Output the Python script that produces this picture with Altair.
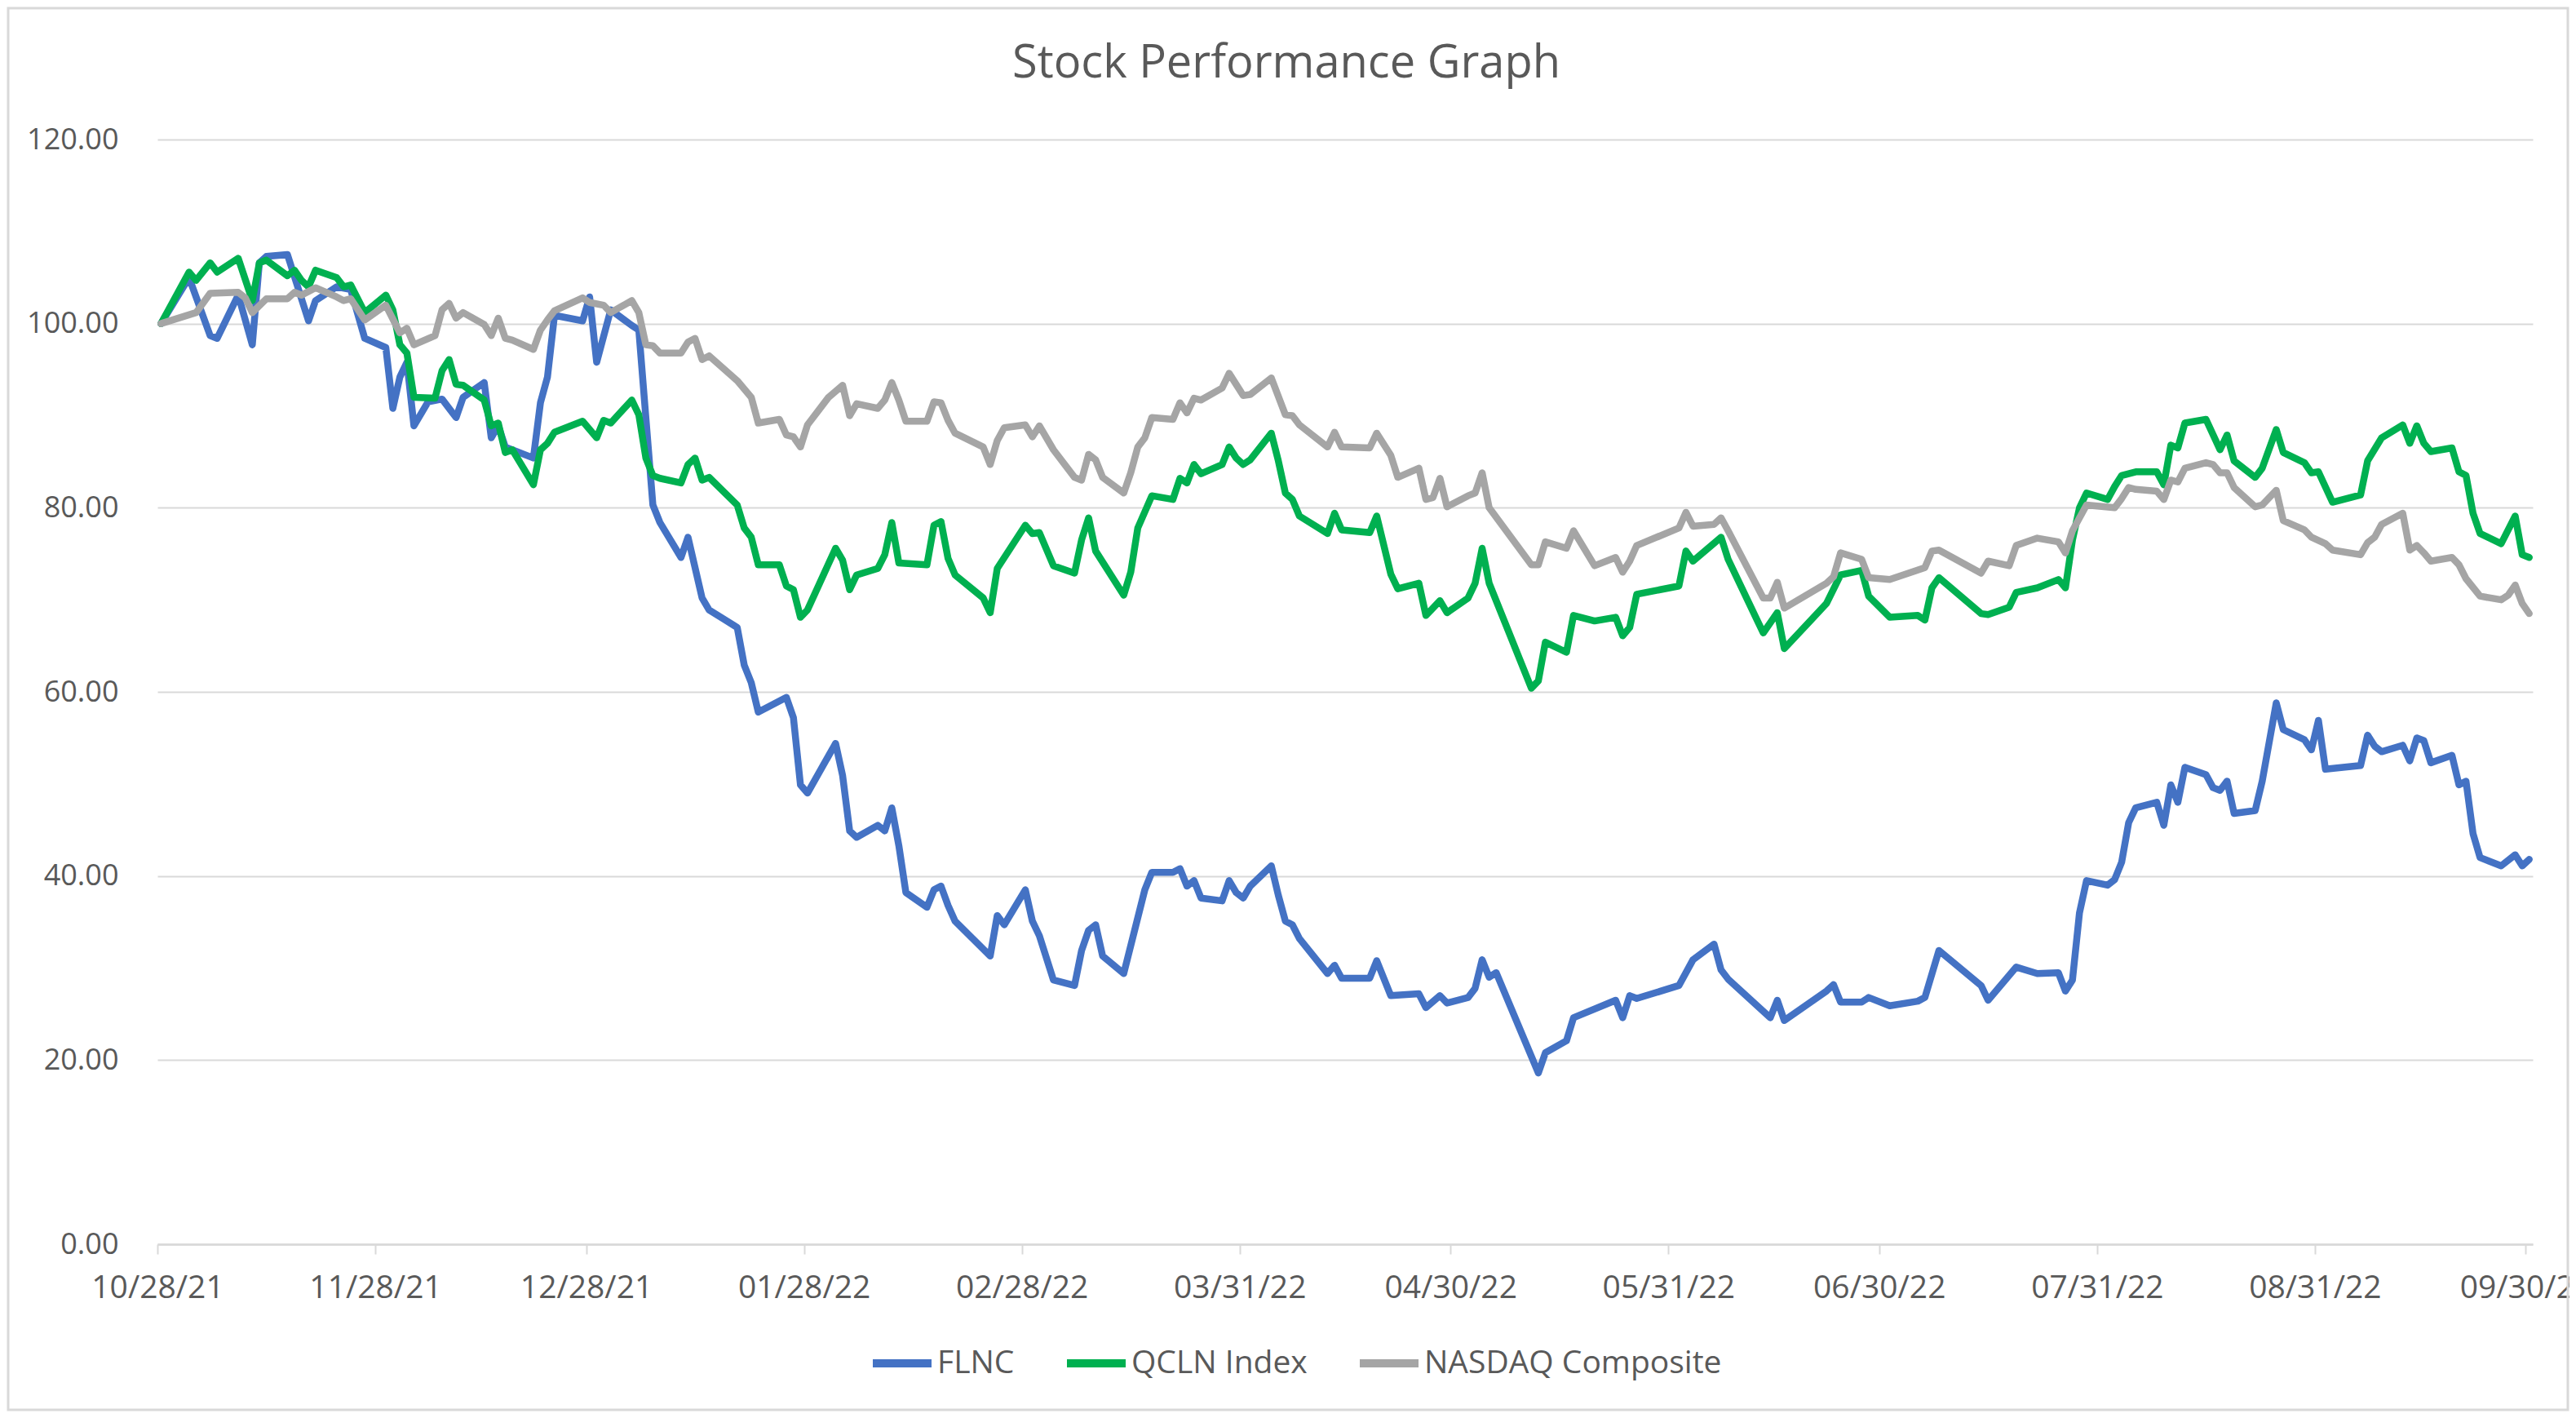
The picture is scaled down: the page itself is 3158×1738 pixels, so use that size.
import altair as alt
import pandas as pd

START = "2021-10-28"
series_names = ["FLNC", "QCLN Index", "NASDAQ Composite"]
series_colors = ["#4472C4", "#00B050", "#A5A5A5"]

# day offsets from 10/28/21 and index values
flnc_day = [0, 4, 7, 8, 11, 13, 14, 15, 18, 21, 22, 25, 27, 29, 32, 33, 34, 35, 36, 38, 40, 42, 43, 46, 47, 48, 49,
            53, 54, 55, 56, 60, 61, 62, 64, 67, 68, 70, 71, 74, 75, 77, 78, 82, 83, 84, 85, 89, 90, 91, 92, 96, 97,
            98, 99, 102, 103, 104, 105, 106, 109, 110, 111, 112, 113, 118, 119, 120, 123, 124, 125, 127, 130, 131,
            132, 133, 134, 137, 140, 141, 144, 145, 146, 147, 148, 151, 152, 153, 154, 155, 158, 159, 160, 161, 162,
            166, 167, 168, 172, 173, 175, 179, 180, 182, 183, 186, 187, 188, 189, 190, 196, 197, 200, 201, 207, 208,
            209, 210, 216, 218, 221, 222, 223, 229, 230, 231, 237, 238, 239, 242, 243, 246, 250, 251, 253, 259, 260,
            264, 267, 270, 271, 272, 273, 274, 277, 278, 279, 280, 281, 284, 285, 286, 287, 288, 291, 292, 293, 294,
            295, 298, 299, 301, 302, 305, 306, 307, 308, 313, 314, 315, 316, 319, 320, 321, 322, 323, 326, 327, 328,
            329, 330, 333, 335, 336, 337]
flnc_val = [100, 105, 98.7, 98.4, 103.1, 97.7, 106.6, 107.3, 107.5, 100.3, 102.5, 104, 103.7, 98.4, 97.4, 90.8, 94.2,
            95.8, 88.9, 91.5, 91.8, 89.8, 92, 93.6, 87.6, 88.9, 86.6,
            85.4, 91.4, 94.2, 100.9, 100.3, 102.9, 95.8, 101.5, 99.8, 99.3, 80.3, 78.4, 74.6, 76.8, 70.2, 68.9, 67,
            62.9, 61, 57.8, 59.4, 57.2, 49.9, 49, 54.4, 50.9,
            44.9, 44.2, 45.5, 44.9, 47.4, 43.3, 38.2, 36.6, 38.5, 38.9, 36.8, 35.1, 31.3, 35.7, 34.7, 38.5, 35.1,
            33.5, 28.7, 28.1, 31.9,
            34.1, 34.7, 31.3, 29.4, 38.5, 40.4, 40.4, 40.8, 38.9, 39.5, 37.6, 37.3, 39.5, 38.2, 37.6, 38.9, 41.1,
            37.9, 35.1, 34.7, 33.2,
            29.4, 30.3, 28.9, 28.9, 30.8, 27, 27.2, 25.7, 27, 26.2, 26.8, 27.8, 30.9, 29, 29.5, 18.6, 20.8, 22.1,
            24.6, 26.5, 24.6,
            27, 26.7, 28.1, 30.9, 32.6, 29.8, 28.8, 24.6, 26.5, 24.3, 27.5, 28.2, 26.3, 26.3, 26.8, 25.9, 26.4, 26.8,
            31.9, 28.1, 26.5,
            30.1, 29.4, 29.5, 27.5, 28.7, 36, 39.5, 39, 39.6, 41.5, 45.8, 47.4, 48, 45.5, 49.9, 48, 51.8, 51, 49.6,
            49.3, 50.3,
            46.8, 47.1, 50.3, 58.8, 55.9, 54.8, 53.7, 56.9, 51.6, 52, 55.3, 54.1, 53.5, 54.2, 52.5, 55, 54.7, 52.3,
            53.1, 49.9, 50.3,
            44.6, 42, 41.1, 42.3, 41.1, 41.8]

qcln_day = [0, 4, 5, 7, 8, 11, 13, 14, 15, 18, 19, 20, 21, 22, 25, 26, 27, 29, 32, 33, 34, 35, 36, 39, 40, 41, 42,
            43, 46, 47, 48, 49, 50, 53, 54, 55, 56, 60, 62, 63, 64, 67, 68, 69, 70, 71, 74, 75, 76, 77, 78, 82, 83,
            84, 85, 88, 89, 90, 91, 92, 96, 97, 98, 99, 102, 103, 104, 105, 109, 110, 111, 112, 113, 117, 118, 119,
            123, 124, 125, 127, 130, 131, 132, 133, 137, 138, 139, 141, 144, 145, 146, 147, 148, 151, 152, 153, 154,
            155, 158, 159, 160, 161, 162, 166, 167, 168, 172, 173, 175, 176, 179, 180, 182, 183, 186, 187, 188, 189,
            195, 196, 197, 200, 201, 204, 207, 208, 209, 210, 216, 217, 218, 222, 223, 228, 230, 231, 237, 239, 242,
            243, 246, 250, 251, 252, 253, 259, 260, 263, 264, 267, 270, 271, 272, 273, 274, 277, 278, 279, 281, 284,
            285, 286, 287, 288, 291, 293, 294, 295, 298, 299, 301, 302, 305, 306, 307, 309, 313, 314, 316, 319, 320,
            321, 322, 323, 326, 327, 328, 329, 330, 333, 335, 336, 337]
qcln_val = [100, 105.6, 104.7, 106.6, 105.6, 107.1, 102.5, 106.6, 106.9, 105.2, 105.8, 104.7, 104, 105.8, 105, 104,
            104.2, 101.2, 103.1, 101.5, 97.7, 96.8, 92, 91.9, 94.9, 96.1, 93.4,
            93.3, 91.7, 88.9, 89.2, 86, 86.3, 82.5, 86.3, 87, 88.2, 89.4, 87.6, 89.5, 89.2, 91.7, 90.1, 85.4, 83.5,
            83.2, 82.7, 84.7, 85.4, 83, 83.3, 80.3, 77.8,
            76.8, 73.8, 73.8, 71.5, 71.1, 68.1, 68.9, 75.6, 74.3, 71.1, 72.7, 73.4, 74.9, 78.4, 74, 73.8, 78.1, 78.5,
            74.5, 72.7, 70.2, 68.6, 73.4,
            78.1, 77.2, 77.3, 73.7, 72.9, 76.5, 78.9, 75.3, 70.5, 73, 77.8, 81.3, 80.9, 83.2, 82.7, 84.7, 83.7, 84.7,
            86.6, 85.4, 84.7,
            85.2, 88.1, 85.1, 81.6, 80.9, 79.1, 77.2, 79.4, 77.6, 77.3, 79.1, 72.8, 71.2, 71.8, 68.3, 69.9, 68.6,
            70.2, 71.8, 75.6, 71.8,
            60.4, 61.2, 65.4, 64.3, 68.3, 67.7, 68.1, 66.1, 67, 70.6, 71.5, 75.3, 74.2, 76.8, 74.4, 66.4, 68.6, 64.7,
            69.6, 72.7, 73.2,
            70.4, 68.1, 68.3, 67.8, 71.3, 72.4, 68.5, 68.4, 69.2, 70.8, 71.3, 72.2, 71.3, 76.5, 80, 81.6, 80.9, 82.3,
            83.5, 83.9, 83.9,
            82.5, 86.8, 86.5, 89.2, 89.6, 86.3, 87.9, 85.1, 83.3, 84.3, 88.5, 86, 84.9, 83.8, 83.9, 80.6, 81.4, 85.1,
            87.6, 89, 87,
            88.9, 87, 86.1, 86.5, 83.9, 83.5, 79.4, 77.2, 76.1, 79.1, 74.9, 74.6]

nasdaq_day = [0, 5, 7, 11, 12, 13, 15, 18, 19, 20, 22, 25, 26, 27, 29, 32, 34, 35, 36, 39, 40, 41, 42, 43, 46, 47,
              48, 49, 50, 53, 54, 55, 56, 60, 61, 63, 64, 67, 68, 69, 70, 71, 74, 75, 76, 77, 78, 82, 84, 85, 88, 89,
              90, 91, 92, 95, 97, 98, 99, 102, 103, 104, 105, 106, 109, 110, 111, 112, 113, 117, 118, 119, 120, 123,
              124, 125, 127, 130, 131, 132, 133, 134, 137, 138, 139, 140, 141, 144, 145, 146, 147, 148, 151, 152, 154,
              155, 158, 160, 161, 162, 166, 167, 168, 172, 173, 175, 176, 179, 180, 181, 182, 183, 186, 187, 188, 189,
              195, 196, 197, 200, 201, 204, 207, 208, 209, 210, 216, 217, 218, 221, 222, 223, 228, 229, 230, 231, 237,
              238, 239, 242, 243, 246, 251, 252, 253, 259, 260, 263, 264, 267, 270, 271, 272, 274, 278, 279, 280, 281,
              284, 285, 286, 287, 288, 291, 292, 293, 294, 295, 298, 299, 301, 302, 305, 306, 308, 309, 313, 314, 315,
              316, 319, 320, 321, 322, 323, 326, 327, 328, 330, 333, 334, 335, 336, 337]
nasdaq_val = [100, 101.2, 103.3, 103.4, 102.8, 101.2, 102.7, 102.7, 103.4, 103.1, 103.9, 102.9, 102.5, 102.7, 100.4,
              102, 99, 99.5, 97.7, 98.7, 101.5, 102.2, 100.6, 101.2, 99.9, 98.7,
              100.6, 98.4, 98.2, 97.2, 99.3, 100.4, 101.4, 102.8, 102.3, 102, 101.2, 102.5, 101.2, 97.7, 97.6, 96.8,
              96.8, 98, 98.4, 96.1, 96.5, 93.8, 92, 89.2, 89.6, 87.9,
              87.7, 86.6, 89, 92, 93.3, 90, 91.3, 90.8, 91.7, 93.6, 91.7, 89.4, 89.4, 91.5, 91.4, 89.5, 88.1, 86.6,
              84.7, 87.3, 88.7, 89,
              87.7, 88.9, 86.3, 83.3, 83, 85.8, 85.2, 83.3, 81.6, 83.8, 86.6, 87.6, 89.8, 89.6, 91.4, 90.3, 91.9, 91.7,
              93, 94.6, 92.2,
              92.3, 94.1, 90.1, 90, 89, 86.6, 88.2, 86.6, 86.5, 88.1, 85.7, 83.3, 84.3, 80.9, 81.1, 83.2, 80.1, 81.3,
              81.6, 83.8, 80,
              73.8, 73.8, 76.3, 75.6, 77.5, 73.7, 74.6, 73, 74.2, 75.9, 77.8, 79.5, 78, 78.2, 78.9, 77.5, 70.2, 70.2,
              71.9, 69.1, 71.8,
              72.5, 75.1, 74.4, 72.4, 72.2, 73.5, 75.3, 75.4, 72.9, 74.2, 73.7, 75.9, 76.7, 76.3, 75.1, 77.5, 80.3, 80,
              81, 82.2, 82,
              81.8, 80.9, 83, 82.8, 84.3, 84.9, 84.7, 83.8, 83.8, 82.2, 80.1, 80.3, 81.9, 78.6, 77.6, 76.8, 76.1, 75.4,
              74.9, 76.2, 76.8,
              78.2, 79.4, 75.4, 75.9, 75.1, 74.2, 74.6, 73.8, 72.3, 70.4, 70, 70.5, 71.6, 69.6, 68.5]

tick_dates = [(2021, 10, 28), (2021, 11, 28), (2021, 12, 28), (2022, 1, 28), (2022, 2, 28), (2022, 3, 31),
              (2022, 4, 30), (2022, 5, 31), (2022, 6, 30), (2022, 7, 31), (2022, 8, 31), (2022, 9, 30)]
y_ticks = [0, 20, 40, 60, 80, 100, 120]


def frame(name, days, vals):
    d = pd.DataFrame({"day": days, "value": vals})
    # Excel date axis places each point in the middle of its day
    d["date"] = pd.Timestamp(START) + pd.to_timedelta(d["day"], unit="D") + pd.Timedelta(hours=12)
    d["series"] = name
    return d[["date", "value", "series"]]


df = pd.concat([
    frame(series_names[0], flnc_day, flnc_val),
    frame(series_names[1], qcln_day, qcln_val),
    frame(series_names[2], nasdaq_day, nasdaq_val),
], ignore_index=True)

FONT = "Open Sans"
TEXT = "#595959"
GRID = "#D9D9D9"

W, H = 2912, 1354

lines = alt.Chart(df).mark_line(strokeWidth=8.5, strokeJoin="round", strokeCap="round").encode(
    x=alt.X("date:T",
            scale=alt.Scale(domain=[alt.DateTime(year=2021, month=10, date=28),
                                    alt.DateTime(year=2022, month=10, date=1)]),
            axis=alt.Axis(title=None, values=[alt.DateTime(year=y, month=m, date=d) for (y, m, d) in tick_dates],
                          format="%m/%d/%y", grid=False, domainColor=GRID, domainWidth=2.5,
                          tickColor=GRID, tickWidth=2, tickSize=12, labelPadding=22,
                          labelFont=FONT, labelFontSize=39, labelColor=TEXT,
                          labelFlush=False, labelOverlap=False, labelBound=False)),
    y=alt.Y("value:Q", scale=alt.Scale(domain=[0, 120], nice=False),
            axis=alt.Axis(title=None, values=y_ticks, format=".2f", grid=True, gridColor=GRID, gridWidth=2,
                          domain=False, ticks=False, labelPadding=48, labelFlush=False,
                          labelFont=FONT, labelFontSize=36, labelColor=TEXT)),
    color=alt.Color("series:N",
                    scale=alt.Scale(domain=series_names, range=series_colors),
                    sort=series_names,
                    legend=alt.Legend(title=None, orient="none", direction="horizontal",
                                      legendX=872, legendY=1459, padding=0,
                                      symbolType="stroke", symbolSize=5184, symbolStrokeWidth=10,
                                      labelFont=FONT, labelFontSize=39, labelColor=TEXT, labelLimit=0,
                                      labelOffset=2, columnPadding=44)),
    order=alt.Order("date:T"),
)

border = alt.Chart(pd.DataFrame({"k": [0]})).mark_rect(
    fill="transparent", stroke=GRID, strokeWidth=3
).encode(x=alt.value(-183), x2=alt.value(W + 43), y=alt.value(-161), y2=alt.value(H + 203))

chart = alt.layer(lines, border).properties(
    width=W, height=H,
    title=alt.TitleParams("Stock Performance Graph", font=FONT, fontSize=56, fontWeight="normal",
                          color=TEXT, anchor="middle", frame="group", dx=-72, offset=-142,
                          baseline="alphabetic"),
    padding={"left": 185, "top": 163, "right": 45, "bottom": 205},
    autosize=alt.AutoSizeParams(type="none"),
    background="white",
).configure_view(stroke=None)

chart.save("out.html", embed_options={"renderer": "svg", "actions": False})
